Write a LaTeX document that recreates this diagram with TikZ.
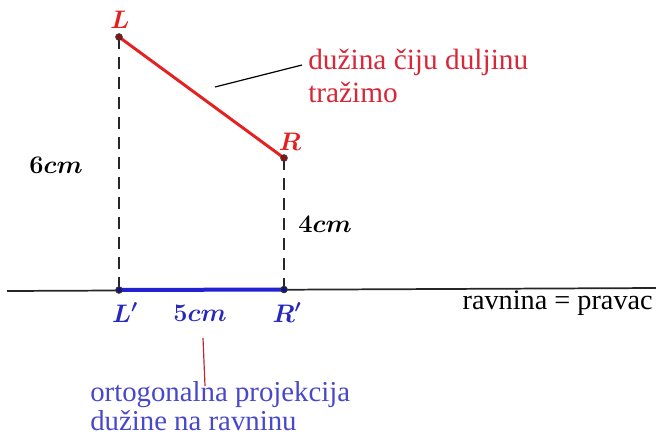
\documentclass[tikz,border=0pt]{standalone}
\usepackage{fix-cm}
\usepackage{fontspec}
\setmainfont{Liberation Serif}
\usepackage{bm}
\definecolor{segred}{RGB}{228,32,32}
\definecolor{txtred}{RGB}{214,40,56}
\definecolor{segblue}{RGB}{34,34,210}
\definecolor{lblblue}{RGB}{40,40,190}
\definecolor{txtblue}{RGB}{72,72,200}
\definecolor{callred}{RGB}{190,40,50}
\tikzset{
  pt/.style={circle,draw=black!80,fill=segred!60!black,line width=0.6pt,inner sep=0pt,minimum size=5pt},
  ptb/.style={circle,draw=black!80,fill=segblue!60!black,line width=0.6pt,inner sep=0pt,minimum size=5pt},
  proj/.style={draw=black!85,line width=1.4pt,dash pattern=on 9pt off 6pt},
  mlab/.style={font=\fontsize{19}{21}\selectfont,inner sep=0pt,anchor=base},
  ttext/.style={font=\fontsize{22}{24.75}\selectfont,inner sep=0pt,anchor=base west,align=left},
}
\begin{document}
\begin{tikzpicture}[x=0.75pt,y=-0.75pt]
\useasboundingbox (0,0) rectangle (656,436);
% points
\coordinate (L) at (119,37);
\coordinate (R) at (284,158);
\coordinate (Lp) at (119,290);
\coordinate (Rp) at (284,289.5);
\coordinate (axL) at (7,291);
\coordinate (axR) at (656,288);
% axis (plane)
\draw[black!85,line width=1.3pt] (axL) -- (axR);
% projection lines
\draw[proj] (L) -- (Lp);
\draw[proj] (R) -- (Rp);
% segment and its projection
\draw[segred,line width=2.2pt] (L) -- (R);
\draw[segblue,line width=3pt] (Lp) -- (Rp);
\node[pt] (Ldot) at (L) {};
\node[pt] (Rdot) at (R) {};
\node[ptb] (Lpdot) at (Lp) {};
\node[ptb] (Rpdot) at (Rp) {};
% labels
\node[mlab,text=segred] (Llab) at (120,28) {$\bm{L}$};
\node[mlab,text=segred] (Rlab) at (290,150) {$\bm{R}$};
\node[mlab,text=lblblue] (Lplab) at (125,322) {$\bm{L'}$};
\node[mlab,text=lblblue] (Rplab) at (287,322) {$\bm{R'}$};
\node[mlab] (six) at (56,173) {$\bm{6cm}$};
\node[mlab] (four) at (325,232) {$\bm{4cm}$};
\node[mlab,text=lblblue] (five) at (200,321) {$\bm{5cm}$};
\node[ttext,anchor=base east,font=\fontsize{21.2}{24}\selectfont] (plane) at (653,309) {ravnina = pravac};
% callouts
\node[ttext,text=txtred] (segtxt) at (308,102) {dužina čiju duljinu\\tražimo};
\coordinate (c1a) at (215,87);
\coordinate (c1b) at (302,65);
\draw[black,line width=0.9pt] (c1a) -- (c1b);
\node[ttext,text=txtblue,font=\fontsize{21.6}{21.5}\selectfont] (projtxt) at (90,430) {ortogonalna projekcija\\dužine na ravninu};
\coordinate (c2a) at (203,338);
\coordinate (c2b) at (205,386);
\draw[callred,line width=0.9pt] (c2a) -- (c2b);
\end{tikzpicture}
\end{document}
